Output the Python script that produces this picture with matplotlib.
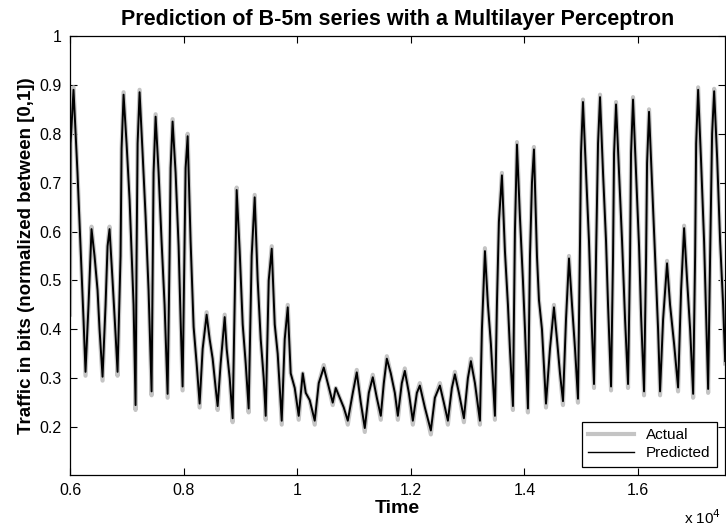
import matplotlib
matplotlib.use("Agg")
import matplotlib.pyplot as plt

# time stamps (samples)
time = [
    6000, 6010, 6062, 6132, 6185, 6238, 6273,
    6326, 6379, 6432, 6485, 6520, 6573,
    6626, 6661, 6696, 6749, 6802, 6837,
    6890, 6908, 6943, 6996, 7049, 7084, 7119, 7154,
    7172, 7190, 7225, 7278, 7331, 7383, 7436,
    7454, 7471, 7507, 7560, 7612, 7665, 7718,
    7753, 7771, 7806, 7859, 7912, 7947, 7982,
    8018, 8035, 8071, 8123, 8176, 8229, 8282,
    8335, 8405, 8458, 8511, 8564, 8599,
    8652, 8723, 8758, 8811, 8863,
    8899, 8934, 8987, 9040, 9093, 9145,
    9198, 9251, 9304, 9357, 9410, 9445,
    9498, 9551, 9604, 9656, 9727,
    9780, 9833, 9885, 9956, 10026,
    10097, 10150, 10220, 10308,
    10379, 10467, 10537, 10625, 10678, 10749, 10819, 10890,
    10978, 11048, 11119, 11189,
    11260, 11330, 11401, 11471,
    11524, 11577, 11647, 11718, 11771,
    11841, 11894, 11965, 12035,
    12106, 12158, 12247, 12352,
    12423, 12511, 12581, 12652,
    12722, 12775, 12846, 12934,
    13004, 13057, 13128, 13216,
    13251, 13304, 13357, 13409, 13480,
    13515, 13550, 13603, 13656, 13709, 13744, 13797,
    13832, 13868, 13920, 13973, 14009, 14061,
    14097, 14132, 14167, 14220, 14255, 14308, 14379,
    14449, 14519, 14572, 14625, 14678,
    14731, 14784, 14837, 14890, 14942,
    14978, 14995, 15030, 15083, 15136, 15171, 15224,
    15260, 15295, 15330, 15383, 15436, 15471, 15524,
    15559, 15577, 15612, 15665, 15718, 15771, 15823,
    15859, 15876, 15911, 15964, 16017, 16052, 16105,
    16141, 16158, 16193, 16246, 16299, 16352, 16387,
    16440, 16510, 16563, 16634, 16704,
    16757, 16810, 16863, 16916, 16969,
    17004, 17022, 17057, 17110, 17162, 17198, 17233,
    17268, 17303, 17339, 17392, 17444, 17497, 17533,
]

actual = [
    0.43, 0.79, 0.895, 0.72, 0.57, 0.42, 0.305,
    0.45, 0.61, 0.55, 0.48, 0.40, 0.295,
    0.45, 0.57, 0.61, 0.50, 0.39, 0.305,
    0.55, 0.77, 0.885, 0.78, 0.665, 0.56, 0.45, 0.235,
    0.55, 0.79, 0.89, 0.76, 0.63, 0.48, 0.265,
    0.50, 0.72, 0.84, 0.72, 0.58, 0.45, 0.26,
    0.55, 0.73, 0.83, 0.72, 0.57, 0.42, 0.275,
    0.58, 0.73, 0.80, 0.58, 0.405, 0.33, 0.24,
    0.36, 0.435, 0.38, 0.34, 0.28, 0.235,
    0.33, 0.43, 0.36, 0.30, 0.21,
    0.45, 0.69, 0.56, 0.41, 0.33, 0.23,
    0.55, 0.675, 0.50, 0.38, 0.30, 0.215,
    0.50, 0.57, 0.41, 0.35, 0.205,
    0.38, 0.45, 0.31, 0.28, 0.215,
    0.31, 0.27, 0.255, 0.205,
    0.29, 0.327, 0.29, 0.245, 0.28, 0.26, 0.24, 0.205,
    0.27, 0.317, 0.25, 0.19,
    0.27, 0.307, 0.26, 0.215,
    0.29, 0.345, 0.31, 0.27, 0.215,
    0.29, 0.32, 0.27, 0.205,
    0.27, 0.29, 0.24, 0.185,
    0.26, 0.29, 0.25, 0.205,
    0.28, 0.313, 0.27, 0.21,
    0.30, 0.34, 0.29, 0.205,
    0.40, 0.566, 0.45, 0.37, 0.215,
    0.45, 0.62, 0.72, 0.56, 0.45, 0.36, 0.235,
    0.60, 0.783, 0.63, 0.50, 0.40, 0.23,
    0.55, 0.70, 0.773, 0.55, 0.46, 0.40, 0.24,
    0.36, 0.45, 0.38, 0.31, 0.245,
    0.42, 0.55, 0.45, 0.36, 0.25,
    0.58, 0.76, 0.87, 0.72, 0.58, 0.45, 0.28,
    0.55, 0.78, 0.88, 0.72, 0.58, 0.45, 0.275,
    0.55, 0.76, 0.865, 0.72, 0.58, 0.42, 0.28,
    0.55, 0.76, 0.875, 0.72, 0.57, 0.43, 0.265,
    0.55, 0.74, 0.85, 0.70, 0.55, 0.40, 0.265,
    0.42, 0.54, 0.45, 0.37, 0.273,
    0.48, 0.612, 0.50, 0.40, 0.26,
    0.55, 0.78, 0.895, 0.74, 0.58, 0.43, 0.27,
    0.55, 0.80, 0.892, 0.75, 0.58, 0.45, 0.33,
]

predicted = [
    0.43, 0.78, 0.89, 0.72, 0.57, 0.42, 0.313,
    0.45, 0.605, 0.55, 0.48, 0.40, 0.303,
    0.45, 0.57, 0.605, 0.50, 0.39, 0.313,
    0.55, 0.77, 0.88, 0.78, 0.665, 0.56, 0.45, 0.245,
    0.55, 0.78, 0.885, 0.76, 0.63, 0.48, 0.273,
    0.50, 0.72, 0.835, 0.72, 0.58, 0.45, 0.268,
    0.55, 0.73, 0.825, 0.72, 0.57, 0.42, 0.283,
    0.58, 0.73, 0.795, 0.58, 0.405, 0.33, 0.248,
    0.36, 0.43, 0.38, 0.34, 0.28, 0.243,
    0.33, 0.425, 0.36, 0.30, 0.218,
    0.45, 0.685, 0.56, 0.41, 0.33, 0.238,
    0.55, 0.67, 0.50, 0.38, 0.30, 0.223,
    0.50, 0.565, 0.41, 0.35, 0.213,
    0.38, 0.445, 0.31, 0.28, 0.223,
    0.31, 0.27, 0.255, 0.213,
    0.29, 0.322, 0.29, 0.25, 0.28, 0.26, 0.24, 0.213,
    0.27, 0.312, 0.25, 0.198,
    0.27, 0.302, 0.26, 0.223,
    0.29, 0.34, 0.31, 0.27, 0.223,
    0.29, 0.315, 0.27, 0.213,
    0.27, 0.285, 0.24, 0.193,
    0.26, 0.285, 0.25, 0.213,
    0.28, 0.308, 0.27, 0.218,
    0.30, 0.335, 0.29, 0.213,
    0.40, 0.56, 0.45, 0.37, 0.223,
    0.45, 0.62, 0.715, 0.56, 0.45, 0.36, 0.243,
    0.60, 0.778, 0.63, 0.50, 0.40, 0.238,
    0.55, 0.70, 0.768, 0.55, 0.46, 0.40, 0.248,
    0.36, 0.445, 0.38, 0.31, 0.253,
    0.42, 0.545, 0.45, 0.36, 0.258,
    0.58, 0.76, 0.865, 0.72, 0.58, 0.45, 0.288,
    0.55, 0.78, 0.875, 0.72, 0.58, 0.45, 0.283,
    0.55, 0.76, 0.86, 0.72, 0.58, 0.42, 0.288,
    0.55, 0.76, 0.87, 0.72, 0.57, 0.43, 0.273,
    0.55, 0.74, 0.845, 0.70, 0.55, 0.40, 0.273,
    0.42, 0.535, 0.45, 0.37, 0.281,
    0.48, 0.607, 0.50, 0.40, 0.268,
    0.55, 0.78, 0.89, 0.74, 0.58, 0.43, 0.278,
    0.55, 0.80, 0.887, 0.75, 0.58, 0.45, 0.335,
]

xticks = [6000, 8000, 10000, 12000, 14000, 16000]
xtick_labels = ["0.6", "0.8", "1", "1.2", "1.4", "1.6"]
yticks = [0.2, 0.3, 0.4, 0.5, 0.6, 0.7, 0.8, 0.9, 1.0]
ytick_labels = ["0.2", "0.3", "0.4", "0.5", "0.6", "0.7", "0.8", "0.9", "1"]

plt.rcParams["font.family"] = ["Liberation Sans", "DejaVu Sans"]

fig = plt.figure(figsize=(7.26, 5.29), dpi=100)
ax = fig.add_axes([70 / 726, 54 / 529, 655 / 726, 439 / 529])

ax.plot(time, actual, color="#c4c4c4", lw=3.0, label="Actual")
ax.plot(time, predicted, color="black", lw=1.4, label="Predicted")

ax.set_xlim(6000, 17530)
ax.set_ylim(0.102, 1.0)
ax.set_xticks(xticks)
ax.set_xticklabels(xtick_labels)
ax.set_yticks(yticks)
ax.set_yticklabels(ytick_labels)
ax.tick_params(direction="in", length=5, width=0.8, top=True, right=True,
               labelsize=11.5, pad=6)
for s in ax.spines.values():
    s.set_linewidth(0.9)

ax.set_title("Prediction of B-5m series with a Multilayer Perceptron",
             fontsize=15.5, fontweight="bold", pad=8)
ax.set_xlabel("Time", fontsize=14, fontweight="bold", labelpad=1)
ax.set_ylabel("Traffic in bits (normalized between [0,1])", fontsize=13.5,
              fontweight="bold", labelpad=3)
fig.text(721 / 726, 1 - 518 / 529, r"x 10$^{4}$", fontsize=11, va="center", ha="right")

leg = ax.legend(loc="lower right", fontsize=11, fancybox=False, framealpha=1,
                edgecolor="black", borderaxespad=0.55, handlelength=3.0,
                borderpad=0.4, labelspacing=0.3)
leg.get_frame().set_linewidth(0.9)
for line in leg.get_lines():
    line.set_linewidth(3.0 if line.get_label() == "Actual" else 1.0)

fig.savefig("out.png", dpi=100)
